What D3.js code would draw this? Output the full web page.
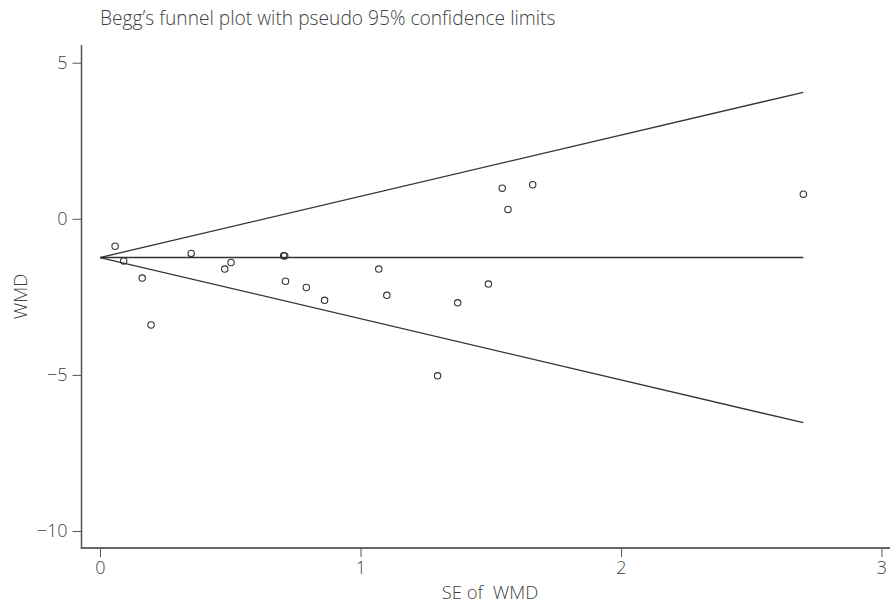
<!DOCTYPE html>
<html>
<head>
<meta charset="utf-8">
<script src="https://cdn.jsdelivr.net/npm/d3@7"></script>
<style>
  html, body { margin: 0; padding: 0; background: #fff; }
  svg { display: block; }
  text { font-family: "Open Sans", "Noto Sans", sans-serif; font-weight: 300; fill: #3f3f3f; }
</style>
</head>
<body>
<svg id="chart" width="890" height="603"></svg>
<script>
// Study-level estimates: standard error and weighted mean difference
const se  = [0.058, 0.091, 0.162, 0.196, 0.350, 0.479, 0.503, 0.705, 0.709, 0.712,
             0.792, 0.862, 1.070, 1.101, 1.296, 1.373, 1.491, 1.544, 1.566, 1.661, 2.700];
const wmd = [-0.88, -1.35, -1.90, -3.40, -1.11, -1.61, -1.40, -1.18, -1.19, -2.00,
             -2.20, -2.61, -1.61, -2.45, -5.03, -2.69, -2.09, 0.98, 0.30, 1.09, 0.79];

// Pooled (fixed-effect) estimate and normal quantile for the pseudo 95% limits
const pooled = -1.24;
const z95 = 1.96;

const xTicks = [0, 1, 2, 3];
const yTicks = [-10, -5, 0, 5];

const title = "Begg\u2019s funnel plot with pseudo 95% confidence limits";
const xLabel = "SE of  WMD";
const yLabel = "WMD";

const svg = d3.select("#chart");

const x = d3.scaleLinear().domain([0, 3]).range([100, 881.5]);
const y = d3.scaleLinear().domain([-10, 5]).range([531, 62.7]);

const plotLeft = 81.5, plotBottom = 548, plotTop = 45, plotRight = 890;
const ink = "#333";
const fontSize = 18;

// Title
svg.append("text")
  .attr("x", 100).attr("y", 25)
  .attr("font-size", 19.2)
  .text(title);

// Y axis
const yAxis = d3.axisLeft(y).tickValues(yTicks).tickSize(9).tickPadding(5)
  .tickFormat(d => d < 0 ? "\u2212" + Math.abs(d) : String(d));
const gy = svg.append("g").attr("transform", `translate(${plotLeft},0)`).call(yAxis);
gy.select(".domain").remove();
gy.selectAll(".tick line").attr("stroke", "#555").attr("stroke-width", 1);
gy.selectAll(".tick text").attr("font-size", fontSize).attr("fill", "#3f3f3f")
  .attr("font-family", "'Open Sans', sans-serif").attr("font-weight", 300);
svg.append("line")
  .attr("x1", plotLeft).attr("x2", plotLeft)
  .attr("y1", plotTop).attr("y2", plotBottom + 0.75)
  .attr("stroke", "#555").attr("stroke-width", 1.5);

// X axis
const xAxis = d3.axisBottom(x).tickValues(xTicks).tickSize(9).tickPadding(4)
  .tickFormat(d3.format("d"));
const gx = svg.append("g").attr("transform", `translate(0,${plotBottom})`).call(xAxis);
gx.select(".domain").remove();
gx.selectAll(".tick line").attr("stroke", "#555").attr("stroke-width", 1);
gx.selectAll(".tick text").attr("font-size", fontSize).attr("fill", "#3f3f3f")
  .attr("font-family", "'Open Sans', sans-serif").attr("font-weight", 300);
svg.append("line")
  .attr("x1", plotLeft - 0.75).attr("x2", plotRight)
  .attr("y1", plotBottom).attr("y2", plotBottom)
  .attr("stroke", "#666").attr("stroke-width", 1.8);

// Axis titles
svg.append("text")
  .attr("x", 490).attr("y", 599)
  .attr("text-anchor", "middle")
  .attr("font-size", 18.5)
  .style("white-space", "pre")
  .text(xLabel);

svg.append("text")
  .attr("transform", `translate(27,${(plotTop + plotBottom) / 2}) rotate(-90)`)
  .attr("text-anchor", "middle")
  .attr("font-size", 18.5)
  .text(yLabel);

// Funnel: pooled line and pseudo 95% limits from SE = 0 to the largest SE
const seMax = d3.max(se);
const line = d3.line().x(d => x(d[0])).y(d => y(d[1]));
const funnel = [
  [[0, pooled], [seMax, pooled]],
  [[0, pooled], [seMax, pooled + z95 * seMax]],
  [[0, pooled], [seMax, pooled - z95 * seMax]]
];
svg.append("g").selectAll("path").data(funnel).join("path")
  .attr("d", line)
  .attr("fill", "none")
  .attr("stroke", ink)
  .attr("stroke-width", 1.3);

// Study points
const pts = se.map((s, i) => ({ se: s, wmd: wmd[i] }));
svg.append("g").selectAll("circle").data(pts).join("circle")
  .attr("cx", d => x(d.se))
  .attr("cy", d => y(d.wmd))
  .attr("r", 3.2)
  .attr("fill", "none")
  .attr("stroke", ink)
  .attr("stroke-width", 1.1);
</script>
</body>
</html>
